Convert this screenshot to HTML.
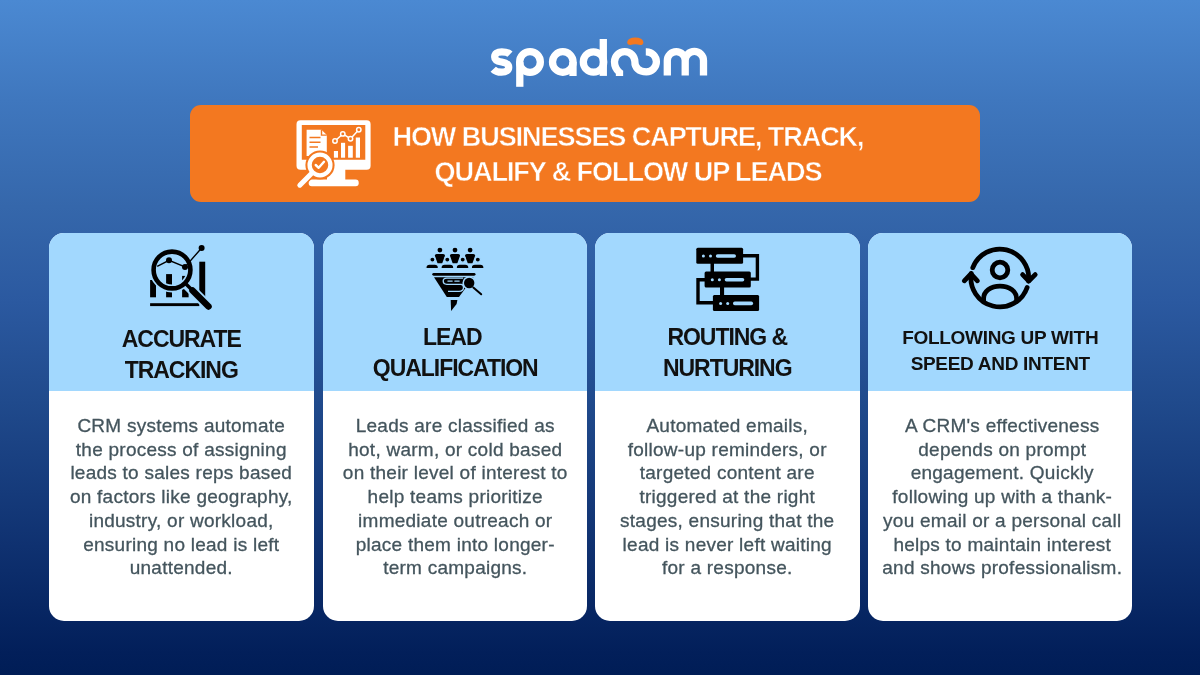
<!DOCTYPE html>
<html>
<head>
<meta charset="utf-8">
<style>
html,body{margin:0;padding:0;}
body{width:1200px;height:675px;overflow:hidden;position:relative;
  background:linear-gradient(180deg,#4b89d2 0px,#3f77be 100px,#3567ab 207px,#2b59a0 302px,#204a8c 402px,#0f3170 547px,#021f5a 652px,#001d56 675px);
  font-family:"Liberation Sans",sans-serif;}
.abs{position:absolute;}
#logo{left:0;top:0;width:1200px;height:100px;}
#banner{left:190px;top:105.4px;width:789.6px;height:97px;background:#f37820;border-radius:11px;}
.btxt{position:absolute;will-change:transform;-webkit-text-stroke:0.45px #f37820;left:0;width:1256px;text-align:center;color:#fff;font-weight:700;font-size:27px;letter-spacing:-1.05px;white-space:nowrap;line-height:1;}
.card{position:absolute;top:232.7px;width:264.5px;height:388px;border-radius:15px;overflow:hidden;background:#fff;}
.card .top{position:absolute;left:0;top:0;width:100%;height:158.3px;background:#a2d8fe;}
.ttl{position:absolute;will-change:transform;left:0;width:100%;text-align:center;color:#111;font-weight:700;white-space:nowrap;line-height:1;}
.body{position:absolute;will-change:transform;-webkit-text-stroke:0.3px #44555d;left:0;width:100%;text-align:center;color:#44555d;font-size:19px;line-height:23.7px;letter-spacing:0.25px;white-space:nowrap;}
</style>
</head>
<body>
<div id="banner" class="abs"></div>
<svg class="abs" style="left:0;top:0" width="1200" height="675" viewBox="0 0 1200 675">
<!-- logo -->
<g fill="none" stroke="#fff" stroke-width="7.3">
  <path d="M510,54.2 Q507.5,51.8 501.8,51.8 C497.2,51.8 494.7,54 494.7,56.9 C494.7,60.2 498,61.3 501.7,62 C505.4,62.7 508.7,64 508.7,67.2 C508.7,70.2 506.2,72.2 501.6,72.2 Q496,72.2 493.2,69.2"/>
  <circle cx="530" cy="62" r="10.35"/><path d="M519.8,62 V86.8"/>
  <circle cx="562.8" cy="62" r="10.3"/><path d="M573,62 V76"/>
  <circle cx="593.5" cy="62" r="10.2"/><path d="M603.3,39 V75.9"/>
  <path d="M619.5,75.9 V72.5 C616.5,70 614.5,66.5 614.5,61.8 A10.2,10.2 0 0 1 634.9,61.8 C634.7,67.5 639,71.8 646.4,71.8 A10,10 0 0 0 656.4,61.8 A10,10 0 0 0 646.4,51.8 H645.8"/>
  <path d="M667.3,75.6 V60.6 A8.95,8.95 0 0 1 685.2,60.6 V75.6 M685.2,60.6 A9.15,9.15 0 0 1 703.5,60.6 V75.6"/>
</g>
<path fill="#f37820" d="M627.2,42 Q628,37.6 635.3,37.5 Q642.6,37.6 643.4,42 Q643.6,45.1 640.2,45.1 Q635.3,43.5 630.4,45.1 Q627,45 627.2,42 Z"/>
<!-- banner icon -->
<g fill="#fff">
  <path fill-rule="evenodd" d="M300.5,120.3 H366.6 Q370.6,120.3 370.6,124.3 V165.7 Q370.6,169.7 366.6,169.7 H300.5 Q296.5,169.7 296.5,165.7 V124.3 Q296.5,120.3 300.5,120.3 Z M301.8,125 V159.7 H365.3 V125 Z"/>
  <path d="M327,169 H345.3 V181.5 H327 Z"/>
  <rect x="308.7" y="179.4" width="50" height="6.9" rx="3"/>
  <path d="M306.6,129.8 H321.5 L326.8,135.1 V155.9 H306.6 Z"/>
  <rect x="333.9" y="151" width="4.1" height="6.7"/>
  <rect x="341" y="142.8" width="4.1" height="14.9"/>
  <rect x="348.1" y="145.8" width="4.7" height="11.9"/>
  <rect x="355.8" y="137.5" width="4.2" height="20.2"/>
</g>
<g stroke="#f37820" stroke-width="1.4" fill="none">
  <path d="M309.5,137.5 H320.5 M309.5,142.2 H320.5 M309.5,147 H318"/>
  <path d="M321.5,129.8 V135.1 H326.8"/>
</g>
<path d="M335,141 L342.8,133.9 L350.5,138.7 L358.8,129.8" stroke="#fff" stroke-width="1.5" fill="none"/>
<g fill="#f37820" stroke="#fff" stroke-width="1.5">
  <circle cx="335" cy="141" r="2.2"/><circle cx="342.8" cy="133.9" r="2.2"/><circle cx="350.5" cy="138.7" r="2.2"/><circle cx="358.8" cy="129.8" r="2.2"/>
</g>
<circle cx="320" cy="165" r="14.6" fill="#f37820"/>
<line x1="310.5" y1="174.5" x2="299.5" y2="185.5" stroke="#f37820" stroke-width="8" stroke-linecap="round"/>
<circle cx="320" cy="165" r="10.4" fill="none" stroke="#fff" stroke-width="4.3"/>
<line x1="311" y1="174" x2="299.8" y2="185.2" stroke="#fff" stroke-width="5" stroke-linecap="round"/>
<path d="M315.7,165 L318.7,167.8 L324,161.8" stroke="#fff" stroke-width="2.4" fill="none" stroke-linecap="round" stroke-linejoin="round"/>

</svg>

<div class="btxt" style="top:123.5px">HOW BUSINESSES CAPTURE, TRACK,</div>
<div class="btxt" style="top:158.7px">QUALIFY &amp; FOLLOW UP LEADS</div>

<div class="card" style="left:49.3px">
  <div class="top"></div>
  <div class="ttl" style="top:95px;font-size:23px;letter-spacing:-1.05px">ACCURATE</div>
  <div class="ttl" style="top:126.3px;font-size:23px;letter-spacing:-1.05px">TRACKING</div>
  <div class="body" style="top:181px">CRM systems automate<br>the process of assigning<br>leads to sales reps based<br>on factors like geography,<br>industry, or workload,<br>ensuring no lead is left<br>unattended.</div>
</div>
<div class="card" style="left:322.8px">
  <div class="top"></div>
  <div class="ttl" style="top:93.5px;left:-3px;font-size:23px;letter-spacing:-1.05px">LEAD</div>
  <div class="ttl" style="top:124px;font-size:23px;letter-spacing:-1.05px">QUALIFICATION</div>
  <div class="body" style="top:181px">Leads are classified as<br>hot, warm, or cold based<br>on their level of interest to<br>help teams prioritize<br>immediate outreach or<br>place them into longer-<br>term campaigns.</div>
</div>
<div class="card" style="left:595.3px">
  <div class="top"></div>
  <div class="ttl" style="top:93px;font-size:23px;letter-spacing:-1.05px">ROUTING &amp;</div>
  <div class="ttl" style="top:124px;font-size:23px;letter-spacing:-1.05px">NURTURING</div>
  <div class="body" style="top:181px">Automated emails,<br>follow-up reminders, or<br>targeted content are<br>triggered at the right<br>stages, ensuring that the<br>lead is never left waiting<br>for a response.</div>
</div>
<div class="card" style="left:867.7px">
  <div class="top"></div>
  <div class="ttl" style="top:95px;font-size:19px;letter-spacing:-0.3px">FOLLOWING UP WITH</div>
  <div class="ttl" style="top:121px;font-size:19px;letter-spacing:-0.3px">SPEED AND INTENT</div>
  <div class="body" style="top:181px;left:2.7px">A CRM's effectiveness<br>depends on prompt<br>engagement. Quickly<br>following up with a thank-<br>you email or a personal call<br>helps to maintain interest<br>and shows professionalism.</div>
</div>
<svg class="abs" style="left:0;top:0" width="1200" height="675" viewBox="0 0 1200 675">
<!-- card2 icon -->
<g fill="#000">
  <circle cx="439.9" cy="250.1" r="2.4"/>
  <path d="M434.85,255.7 Q434.85,253.9 436.65,253.9 H443.15 Q444.95,253.9 444.95,255.7 L442.25,263.3 H437.55 Z"/>
  <circle cx="455.0" cy="250.1" r="2.4"/>
  <path d="M449.95,255.7 Q449.95,253.9 451.75,253.9 H458.25 Q460.05,253.9 460.05,255.7 L457.35,263.3 H452.65 Z"/>
  <circle cx="470.1" cy="250.1" r="2.4"/>
  <path d="M465.05,255.7 Q465.05,253.9 466.85,253.9 H473.35 Q475.15,253.9 475.15,255.7 L472.45,263.3 H467.75 Z"/>
</g>
<g fill="#000" stroke="#a2d8fe" stroke-width="1.3">
  <circle cx="432.4" cy="259.6" r="2.6"/>
  <circle cx="447.3" cy="259.6" r="2.6"/>
  <circle cx="462.7" cy="259.6" r="2.6"/>
  <circle cx="477.8" cy="259.6" r="2.6"/>
  <path d="M425.9,268.6 V267.2 Q425.9,264 429.50,264 H434.80 Q438.4,264 438.4,267.2 V268.6 Z"/>
  <path d="M441.0,268.6 V267.2 Q441.0,264 444.60,264 H450.20 Q453.8,264 453.8,267.2 V268.6 Z"/>
  <path d="M456.2,268.6 V267.2 Q456.2,264 459.80,264 H465.30 Q468.9,264 468.9,267.2 V268.6 Z"/>
  <path d="M471.3,268.6 V267.2 Q471.3,264 474.90,264 H480.40 Q484.0,264 484.0,267.2 V268.6 Z"/>
</g>
<g fill="#000">
  <rect x="432.3" y="272.9" width="43.2" height="2.8" rx="1.4"/>
  <path d="M434,277.3 H473.5 L459,296.9 H446.8 Z"/>
  <path d="M450.7,300 H457.4 L456.6,304 L451.1,311.1 Z"/>
</g>
<g stroke="#a2d8fe" stroke-width="1.3" fill="none">
  <path d="M463,278.1 H446.8 Q443.2,278.1 443.2,281.1 Q443.2,284.3 446.8,284.3 H461 Q463.5,284.3 463.5,287.5 Q463.5,291.3 459,291.3 H448"/>
</g>
<g fill="#a2d8fe"><rect x="447.3" y="280.4" width="5.5" height="1.3" rx="0.6"/><rect x="454.2" y="280.4" width="5.6" height="1.3" rx="0.6"/></g>
<circle cx="469.2" cy="283" r="6.8" fill="#a2d8fe"/>
<circle cx="469.2" cy="283" r="5.2" fill="#000"/>
<line x1="473.3" y1="287.5" x2="481.2" y2="294.3" stroke="#000" stroke-width="2" stroke-linecap="round"/>

<!-- card3 icon -->
<g fill="none" stroke="#000" stroke-width="3.4">
  <path d="M742,255.8 H757.4 V279.1 H750"/>
  <path d="M705,279.7 H698 V302.8 H713"/>
</g>
<g fill="#000">
  <rect x="696.3" y="247.7" width="46.8" height="16" rx="1.5"/>
  <rect x="704.6" y="271.4" width="46.2" height="16" rx="1.5"/>
  <rect x="712.9" y="295.1" width="46.2" height="16" rx="1.5"/>
  <rect x="710.5" y="263" width="3.5" height="9"/>
  <rect x="720" y="286.8" width="4.1" height="9"/>
</g>
<g fill="#a2d8fe">
  <circle cx="703.4" cy="256" r="1.5"/><circle cx="710.5" cy="256" r="1.5"/><rect x="715.8" y="254.2" width="20.2" height="3.6" rx="1.8"/>
  <circle cx="712.3" cy="279.7" r="1.5"/><circle cx="719.4" cy="279.7" r="1.5"/><rect x="724.7" y="277.9" width="19.6" height="3.6" rx="1.8"/>
  <circle cx="720.6" cy="303.4" r="1.5"/><circle cx="727.7" cy="303.4" r="1.5"/><rect x="733" y="301.6" width="20.1" height="3.6" rx="1.8"/>
</g>

<!-- card4 icon -->
<g fill="none" stroke="#000" stroke-width="4.8" stroke-linecap="round" stroke-linejoin="round">
  <path d="M972.82,267.64 A28.9,28.9 0 0 1 1028.54,281.02"/>
  <path d="M1022.6,274.6 L1028.8,281 L1035.2,274.6"/>
  <path d="M1027.13,287.41 A28.9,28.9 0 0 1 971.26,273.48"/>
  <path d="M964.3,280.8 L970.9,274 L977.4,280.8"/>
  <circle cx="1000" cy="270" r="7.8"/>
  <path d="M983.6,301.5 V298.5 C983.6,291.5 990.5,286.1 1000,286.1 C1009.5,286.1 1016.6,291.5 1016.6,298.5 V301.5"/>
</g>
<!-- card1 icon -->
<g fill="#000">
  <rect x="150.1" y="303.2" width="49.2" height="2.9"/>
  <rect x="150.1" y="280" width="5.9" height="17.3"/>
  <rect x="166.1" y="274.1" width="5.9" height="23.2"/>
  <rect x="182.1" y="275.9" width="6.5" height="21.4"/>
  <rect x="199.3" y="261.7" width="5.9" height="35.6"/>
</g>
<g stroke="#a2d8fe" fill="none">
  <circle cx="172" cy="270" r="18.4" stroke-width="8"/>
  <line x1="187" y1="285" x2="210.5" y2="308.5" stroke-width="10" stroke-linecap="round"/>
</g>
<path d="M157.2,266.4 L169,260.3 L185,267 L201.6,248" stroke="#000" stroke-width="1.4" fill="none"/>
<g fill="#000"><circle cx="169" cy="260.3" r="3"/><circle cx="185" cy="267" r="3"/><circle cx="201.6" cy="248" r="3"/></g>
<circle cx="172" cy="270" r="18.4" stroke="#000" stroke-width="4.6" fill="none"/>
<line x1="185.5" y1="283.5" x2="193" y2="291" stroke="#000" stroke-width="3.5"/>
<line x1="192.5" y1="290.5" x2="208.5" y2="306.5" stroke="#000" stroke-width="6.5" stroke-linecap="round"/>
</svg>
</body>
</html>
